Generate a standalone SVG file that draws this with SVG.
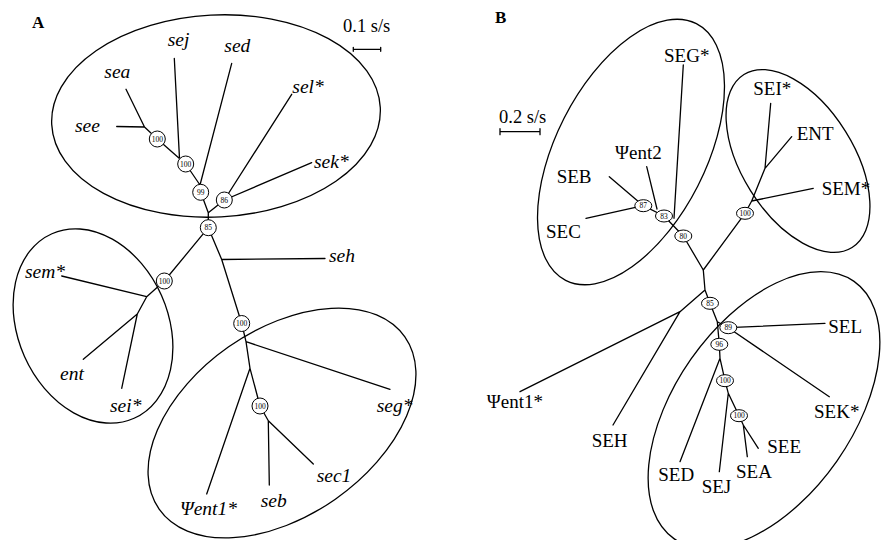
<svg xmlns="http://www.w3.org/2000/svg" width="882" height="540" viewBox="0 0 882 540">
<style>
.ln{stroke:#000;stroke-width:1.3;fill:none;stroke-linecap:round;stroke-linejoin:round}
.cl{stroke:#000;stroke-width:1.3;fill:none}
.nd{stroke:#000;stroke-width:1;fill:#fff}
.bs{font-family:"Liberation Serif","Times New Roman",serif;font-size:7.5px;text-anchor:middle;fill:#000}
.la{font-family:"Liberation Serif","Times New Roman",serif;font-size:19.5px;font-style:italic;fill:#000}
.lb{font-family:"Liberation Serif","Times New Roman",serif;font-size:19px;fill:#000}
.pl{font-family:"Liberation Serif","Times New Roman",serif;font-size:17px;font-weight:bold;fill:#000}
.sc{font-family:"Liberation Serif","Times New Roman",serif;font-size:18.5px;fill:#000}
</style>
<rect width="882" height="540" fill="#fff"/>
<text class="pl" x="32" y="28">A</text>
<text class="pl" x="495" y="23">B</text>
<g id="scaleA"><text class="sc" x="343" y="32">0.1 s/s</text><path class="ln" d="M353.3 49.3H380.7M353.3 47.3V51.3M380.7 47.3V51.3" stroke-width="1.2"/></g>
<g id="scaleB"><text class="sc" x="499" y="122.7">0.2 s/s</text><path class="ln" d="M500 131.7H540M500 128.7V134.7M540 128.7V134.7" stroke-width="1.2"/></g>
<g id="clusters">
<ellipse class="cl" cx="216" cy="116" rx="164.5" ry="101" transform="rotate(-3 216 116)"/>
<ellipse class="cl" cx="93" cy="326" rx="75" ry="101" transform="rotate(-24 93 326)"/>
<ellipse class="cl" cx="282" cy="423" rx="150" ry="93" transform="rotate(-35 282 423)"/>
<ellipse class="cl" cx="631" cy="152" rx="75" ry="144" transform="rotate(27 631 152)"/>
<ellipse class="cl" cx="798" cy="161" rx="56" ry="102" transform="rotate(-32 798 161)"/>
<ellipse class="cl" cx="764" cy="410" rx="89" ry="157" transform="rotate(35 764 410)"/>
</g>
<g id="connectors">
<path class="ln" d="M126 89.3L144.5 127M116.7 126.5L144.5 127L157.3 139L185.7 164L200 185L200.7 192.3L208.3 212.7L208.3 227.7M174.3 58.3L179.5 158.5M231.7 63.3L200 185M208.3 212.7L224.3 200M291.7 94.3L224.3 200M311.7 162.7L224.3 200"/>
<path class="ln" d="M208.3 227.7L164.3 281L146.7 296.7L137.3 314L83.3 359.3M61.7 276L146.7 296.7M137.3 314L121.7 388.3"/>
<path class="ln" d="M208.3 227.7L221.7 259.5L241.7 323.5L246 341.7L250 368.3L260 406L268.3 420.7L269.3 485M221.7 259.5L325 258.5M246 341.7L390 389.3M250 368.3L206.7 494M268.3 420.7L313.3 464"/>
<path class="ln" d="M609.3 176.7L643.3 205.7M586 218.3L643.3 205.7L664 216L683.3 236L703.3 270L745 213.3L751.7 201L765 168.3L770.7 103.3M646.7 166.7L657 209M683.3 65L674 218.3M813.3 188.3L751.7 201M765 168.3L791.7 136.7"/>
<path class="ln" d="M703.3 270L705 290L680 311.7L520 391.7M680 311.7L613 425M705 290L710 303.3L717.3 321.7L728.3 327.7L825 323.3M728.3 327.7L829.3 396.7M717.3 321.7L719.3 344.3L720 358.3L725 380.7L728.3 393.3L739 415.7L743.3 425L747.3 456.7M743.3 425L758.3 448.3M720 358.3L680 461.7M728.3 393.3L719.3 471.7"/>
</g>
<g id="nodes-a">
<g id="a-n100a"><circle class="nd" cx="157.3" cy="139" r="8"/><text class="bs" x="157.3" y="141.6">100</text></g>
<g id="a-n100b"><circle class="nd" cx="185.7" cy="164" r="8"/><text class="bs" x="185.7" y="166.6">100</text></g>
<g id="a-n99"><circle class="nd" cx="200.7" cy="192.3" r="8"/><text class="bs" x="200.7" y="194.9">99</text></g>
<g id="a-n86"><circle class="nd" cx="224.3" cy="200" r="8"/><text class="bs" x="224.3" y="202.6">86</text></g>
<g id="a-n85"><circle class="nd" cx="208.3" cy="227.7" r="8"/><text class="bs" x="208.3" y="230.3">85</text></g>
<g id="a-n100c"><circle class="nd" cx="164.3" cy="281" r="8"/><text class="bs" x="164.3" y="283.6">100</text></g>
<g id="a-n100d"><circle class="nd" cx="241.7" cy="323.5" r="8"/><text class="bs" x="241.7" y="326.1">100</text></g>
<g id="a-n100e"><circle class="nd" cx="260" cy="406" r="8"/><text class="bs" x="260" y="408.6">100</text></g>
<g id="a-sea"><text class="la" x="104.3" y="78.3">sea</text></g>
<g id="a-sej"><text class="la" x="167.7" y="46">sej</text></g>
<g id="a-sed"><text class="la" x="224.3" y="51.7">sed</text></g>
<g id="a-sel"><text class="la" x="292.3" y="92.7">sel*</text></g>
<g id="a-see"><text class="la" x="75" y="131.7">see</text></g>
<g id="a-sek"><text class="la" x="314" y="168.3">sek*</text></g>
<g id="a-seh"><text class="la" x="329" y="261.7">seh</text></g>
<g id="a-sem"><text class="la" x="25" y="278.3">sem*</text></g>
<g id="a-ent"><text class="la" x="60" y="380">ent</text></g>
<g id="a-sei"><text class="la" x="110" y="411.7">sei*</text></g>
<g id="a-seg"><text class="la" x="376.7" y="411.7">seg*</text></g>
<g id="a-sec1"><text class="la" x="316.7" y="481.7">sec1</text></g>
<g id="a-seb"><text class="la" x="260.7" y="506.7">seb</text></g>
<g id="a-psient1"><text class="la" x="180" y="514.5">Ψent1*</text></g>
</g>
<g id="nodes-b">
<g id="b-n87"><ellipse class="nd" cx="643.3" cy="205.7" rx="8.5" ry="6"/><text class="bs" x="643.3" y="208.3">87</text></g>
<g id="b-n83"><ellipse class="nd" cx="664" cy="216" rx="8.5" ry="6"/><text class="bs" x="664" y="218.6">83</text></g>
<g id="b-n80"><ellipse class="nd" cx="683.3" cy="236" rx="8.5" ry="6"/><text class="bs" x="683.3" y="238.6">80</text></g>
<g id="b-n100a"><ellipse class="nd" cx="745" cy="213.3" rx="8.5" ry="6"/><text class="bs" x="745" y="215.9">100</text></g>
<g id="b-n85"><ellipse class="nd" cx="710" cy="303.3" rx="8.5" ry="6"/><text class="bs" x="710" y="305.9">85</text></g>
<g id="b-n89"><ellipse class="nd" cx="728.3" cy="327.7" rx="8.5" ry="6"/><text class="bs" x="728.3" y="330.3">89</text></g>
<g id="b-n96"><ellipse class="nd" cx="719.3" cy="344.3" rx="8.5" ry="6"/><text class="bs" x="719.3" y="346.9">96</text></g>
<g id="b-n100b"><ellipse class="nd" cx="725" cy="380.7" rx="8.5" ry="6"/><text class="bs" x="725" y="383.3">100</text></g>
<g id="b-n100c"><ellipse class="nd" cx="739" cy="415.7" rx="8.5" ry="6"/><text class="bs" x="739" y="418.3">100</text></g>
<g id="b-seg"><text class="lb" x="664" y="61.7">SEG*</text></g>
<g id="b-psient2"><text class="lb" x="615" y="159">Ψent2</text></g>
<g id="b-seb"><text class="lb" x="556.7" y="183.3">SEB</text></g>
<g id="b-sec"><text class="lb" x="546" y="237.7">SEC</text></g>
<g id="b-sei"><text class="lb" x="753.3" y="95">SEI*</text></g>
<g id="b-ent"><text class="lb" x="796.7" y="140">ENT</text></g>
<g id="b-sem"><text class="lb" x="821.7" y="195">SEM*</text></g>
<g id="b-psient1"><text class="lb" x="486.7" y="408">Ψent1*</text></g>
<g id="b-seh"><text class="lb" x="591.7" y="447.3">SEH</text></g>
<g id="b-sel"><text class="lb" x="828.3" y="333.3">SEL</text></g>
<g id="b-sek"><text class="lb" x="814" y="418.3">SEK*</text></g>
<g id="b-see"><text class="lb" x="767.3" y="453.3">SEE</text></g>
<g id="b-sea"><text class="lb" x="736" y="478.3">SEA</text></g>
<g id="b-sed"><text class="lb" x="658.3" y="480.7">SED</text></g>
<g id="b-sej"><text class="lb" x="701.7" y="493.3">SEJ</text></g>
</g>
</svg>
